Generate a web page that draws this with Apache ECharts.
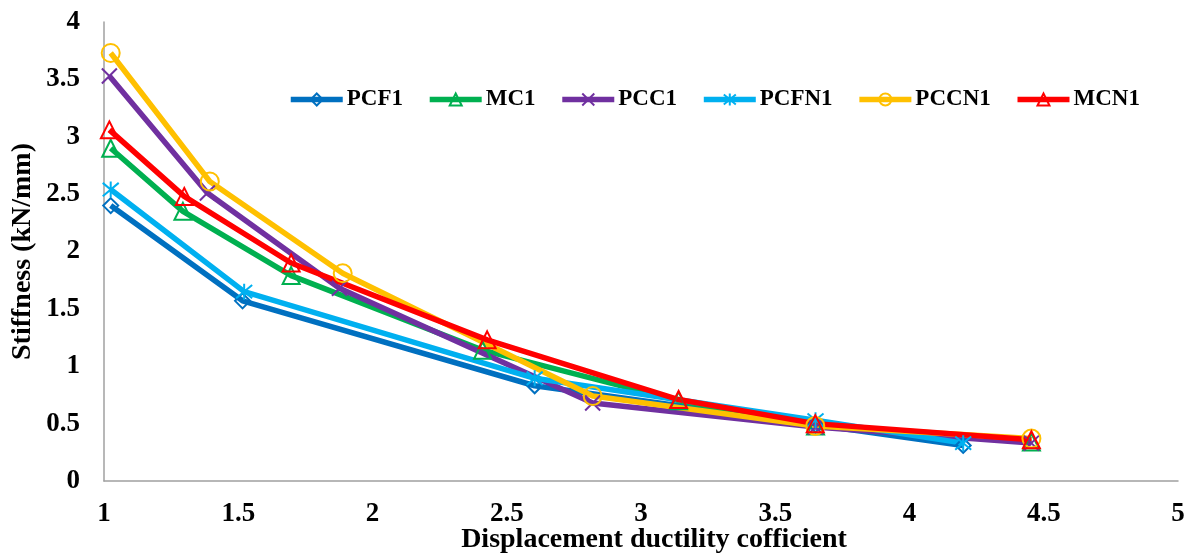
<!DOCTYPE html>
<html>
<head>
<meta charset="utf-8">
<script src="https://cdn.jsdelivr.net/npm/echarts@6/dist/echarts.min.js"></script>
<style>
  html, body { margin: 0; padding: 0; background: #fff; }
  #chart { width: 1195px; height: 553px; }
</style>
</head>
<body>
<div id="chart"></div>
<script>
// values
var names = ['PCF1', 'MC1', 'PCC1', 'PCFN1', 'PCCN1', 'MCN1'];

var pcf1X = [1.025, 1.516, 2.604, 3.65, 4.2];
var pcf1Y = [2.40, 1.57, 0.83, 0.49, 0.31];

var mc1X = [1.025, 1.294, 1.697, 2.41, 3.14, 3.65, 4.454];
var mc1Y = [2.90, 2.35, 1.79, 1.14, 0.70, 0.48, 0.34];

var pcc1X = [1.02, 1.385, 1.877, 2.82, 3.65, 4.454];
var pcc1Y = [3.53, 2.51, 1.68, 0.68, 0.47, 0.33];

var pcfn1X = [1.025, 1.522, 2.604, 3.65, 4.2];
var pcfn1Y = [2.54, 1.65, 0.895, 0.53, 0.33];

var pccn1X = [1.025, 1.394, 1.889, 2.82, 3.649, 4.454];
var pccn1Y = [3.73, 2.61, 1.81, 0.74, 0.48, 0.37];

var mcn1X = [1.02, 1.299, 1.697, 2.427, 3.14, 3.649, 4.454];
var mcn1Y = [3.06, 2.48, 1.90, 1.23, 0.71, 0.50, 0.36];

var colors = ['#0070C0', '#00B050', '#7030A0', '#00B0F0', '#FFC000', '#FF0000'];

var xMark = 'path://M0,0L10,10M10,0L0,10';
var starMark = 'path://M0,0L10,10M10,0L0,10M5,-1L5,11';

function pairs(xs, ys) {
    return xs.map(function (x, i) { return [x, ys[i]]; });
}

function makeSeries(name, data, color, symbol, size) {
    return {
        name: name,
        type: 'line',
        data: data,
        symbol: symbol,
        symbolSize: size,
        showAllSymbol: true,
        lineStyle: { color: color, width: 5.5 },
        itemStyle: { color: 'transparent', borderColor: color, borderWidth: 2 },
        emphasis: { disabled: true },
        animation: false
    };
}

var font = "'Liberation Serif', 'Times New Roman', serif";

var myChart = echarts.init(document.getElementById('chart'));
var option = {
    backgroundColor: '#fff',
    grid: { left: 104, right: 17, top: 22, bottom: 72, containLabel: false, outerBoundsMode: 'none' },
    legend: {
        top: 83,
        left: 283,
        itemWidth: 52,
        itemHeight: 15,
        itemGap: 24,
        lineStyle: { width: 5.5 },
        textStyle: { fontFamily: font, fontWeight: 'bold', fontSize: 23, color: '#000', padding: [0, 0, 0, -1] },
        data: names
    },
    xAxis: {
        type: 'value',
        min: 1,
        max: 5,
        interval: 0.5,
        name: 'Displacement ductility cofficient',
        nameLocation: 'middle',
        nameGap: 45,
        nameMoveOverlap: false,
        nameTextStyle: { fontFamily: font, fontWeight: 'bold', fontSize: 28, color: '#000', padding: [0, 0, 0, 26] },
        axisLine: { show: true, lineStyle: { color: '#A0A0A0', width: 1.5 } },
        axisTick: { show: false },
        splitLine: { show: false },
        axisLabel: { fontFamily: font, fontWeight: 'bold', fontSize: 27, color: '#000', margin: 20 }
    },
    yAxis: {
        type: 'value',
        min: 0,
        max: 4,
        interval: 0.5,
        name: 'Stiffness (kN/mm)',
        nameLocation: 'middle',
        nameGap: 67,
        nameMoveOverlap: false,
        nameTextStyle: { fontFamily: font, fontWeight: 'bold', fontSize: 28, color: '#000' },
        axisLine: { show: true, lineStyle: { color: '#A0A0A0', width: 1.5 } },
        axisTick: { show: false },
        splitLine: { show: false },
        axisLabel: { fontFamily: font, fontWeight: 'bold', fontSize: 27, color: '#000', margin: 24 }
    },
    series: [
        makeSeries(names[0], pairs(pcf1X, pcf1Y), colors[0], 'diamond', 15),
        makeSeries(names[1], pairs(mc1X, mc1Y), colors[1], 'triangle', 17),
        makeSeries(names[2], pairs(pcc1X, pcc1Y), colors[2], xMark, 15),
        makeSeries(names[3], pairs(pcfn1X, pcfn1Y), colors[3], starMark, 16),
        makeSeries(names[4], pairs(pccn1X, pccn1Y), colors[4], 'circle', 18),
        makeSeries(names[5], pairs(mcn1X, mcn1Y), colors[5], 'triangle', 17)
    ]
};
myChart.setOption(option);
</script>
</body>
</html>
